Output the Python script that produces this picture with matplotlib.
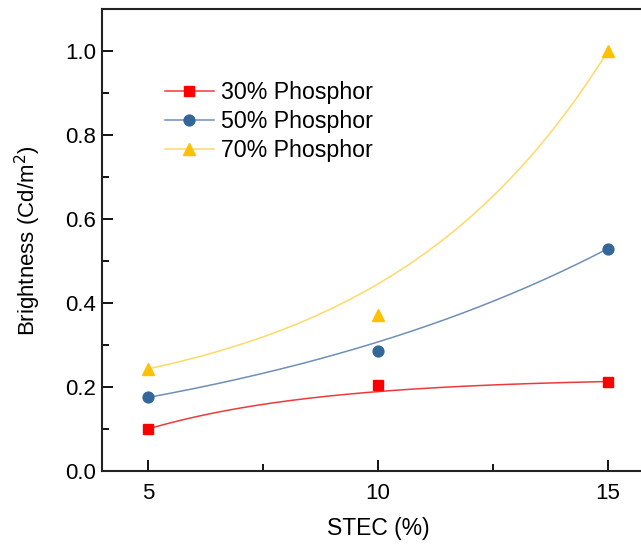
import numpy as np
import matplotlib
matplotlib.use("Agg")
import matplotlib.pyplot as plt
from matplotlib.ticker import MultipleLocator

plt.rcParams['font.family'] = ['Liberation Sans', 'DejaVu Sans']

stec = [5, 10, 15]
labels = ["30% Phosphor", "50% Phosphor", "70% Phosphor"]
b30 = [0.101, 0.206, 0.214]
b50 = [0.176, 0.287, 0.530]
b70 = [0.244, 0.372, 1.000]
# values of the smooth fitted curves at STEC = 10 %
fit_mid = [0.190, 0.308, 0.446]

marker_colors = ["#ff0000", "#336699", "#ffc000"]
line_colors = ["#ec3b3b", "#6f8fb8", "#ffd966"]
markers = ["s", "o", "^"]
msizes = [7, 7.8, 9]

fig = plt.figure(figsize=(6.41, 5.46), dpi=100)
ax = fig.add_axes([0.159, 0.1365, 0.861, 0.847])

for ys, mid, lab, mc, lc, mk, ms in zip([b30, b50, b70], fit_mid, labels,
                                         marker_colors, line_colors, markers, msizes):
    m = (mid - ys[0]) / (ys[2] - ys[0])
    k = 2 * np.log(1 / m - 1)
    xs = np.linspace(stec[0], stec[2], 200)
    t = (xs - stec[0]) / (stec[2] - stec[0])
    curve = ys[0] + (ys[2] - ys[0]) * (np.expm1(k * t) / np.expm1(k))
    ax.plot(xs, curve, color=lc, lw=1.1, zorder=2)
    ax.plot(stec, ys, linestyle='none', marker=mk, color=mc,
            markersize=ms, zorder=3)
    ax.plot([], [], color=lc, lw=1.1, marker=mk, markerfacecolor=mc,
             markeredgecolor=mc, markersize=ms, label=lab)

ax.set_xlim(4, 16)
ax.set_ylim(0, 1.1)
ax.xaxis.set_major_locator(MultipleLocator(5))
ax.xaxis.set_minor_locator(MultipleLocator(2.5))
ax.yaxis.set_major_locator(MultipleLocator(0.2))
ax.yaxis.set_minor_locator(MultipleLocator(0.1))
ax.yaxis.set_major_formatter(matplotlib.ticker.FormatStrFormatter('%.1f'))
ax.tick_params(which='major', direction='in', length=8, width=1.3,
               labelsize=16)
ax.tick_params(axis='x', which='major', pad=8)
ax.tick_params(axis='y', which='major', pad=4)
ax.tick_params(which='minor', direction='in', length=5, width=1.3)
ax.tick_params(top=False, right=False, which='both')
for s in ax.spines.values():
    s.set_linewidth(1.5)
    s.set_color('#222222')

ax.set_xlabel("STEC (%)", fontsize=16.5, labelpad=10)
ax.set_ylabel("Brightness (Cd/m$^2$)", fontsize=16, labelpad=16)

ax.legend(loc='upper left', bbox_to_anchor=(0.114, 0.845), frameon=False,
          fontsize=16.7, handlelength=2.1, handletextpad=0.3,
          labelspacing=0.26, borderaxespad=0, borderpad=0)

fig.savefig("out.png", dpi=100)
